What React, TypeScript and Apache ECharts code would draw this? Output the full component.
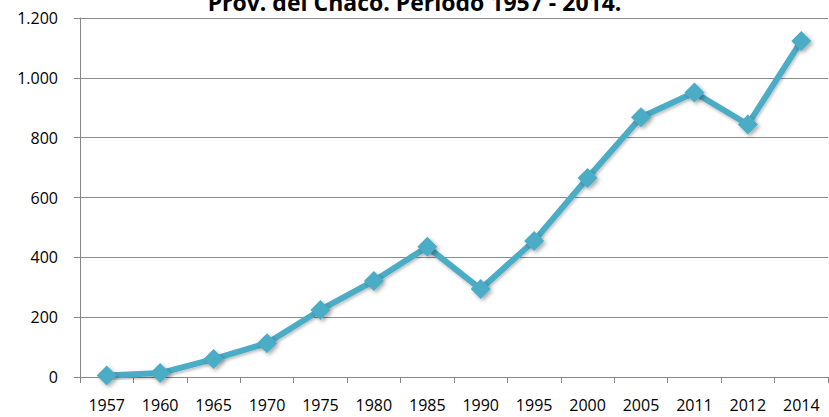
import React, { useEffect, useRef } from "react";
import * as echarts from "echarts";

const categories = ["1957", "1960", "1965", "1970", "1975", "1980", "1985", "1990", "1995", "2000", "2005", "2011", "2012", "2014"];
const values = [5, 13, 60, 113, 224, 321, 435, 294, 455, 665, 868, 951, 844, 1123];
const titleText = "Prov. del Chaco. Período 1957 - 2014.";

const fmt = (v: number) => String(v).replace(/\B(?=(\d{3})+(?!\d))/g, ".");

export default function App() {
  const ref = useRef<HTMLDivElement>(null);
  useEffect(() => {
    const chart = echarts.init(ref.current!, null, { renderer: "svg" });
    chart.setOption({
      animation: false,
      backgroundColor: "#ffffff",
      title: {
        text: titleText,
        left: "center",
        top: -15,
        textStyle: { fontFamily: "Open Sans", fontWeight: "bold", fontSize: 23, color: "#000" },
      },
      grid: { left: 80, right: 1, top: 18, bottom: 40 },
      xAxis: {
        type: "category",
        data: categories,
        boundaryGap: true,
        axisLine: { lineStyle: { color: "#868686", width: 1 } },
        axisTick: { show: true, length: 6, lineStyle: { color: "#868686" } },
        axisLabel: { fontFamily: "Open Sans", fontSize: 16, color: "#000", margin: 20 },
      },
      yAxis: {
        type: "value",
        min: 0,
        max: 1200,
        interval: 200,
        axisLine: { show: true, lineStyle: { color: "#868686", width: 1 } },
        axisTick: { show: true, length: 6, lineStyle: { color: "#868686" } },
        splitLine: { lineStyle: { color: "#8c8c8c", width: 1 } },
        axisLabel: { fontFamily: "Open Sans", fontSize: 16, color: "#000", margin: 22, formatter: (v: number) => fmt(v) },
      },
      series: [
        {
          type: "line",
          data: values,
          symbol: "diamond",
          symbolSize: 20,
          lineStyle: { color: "#4BACC6", width: 6, shadowColor: "rgba(0,0,0,0.25)", shadowBlur: 3, shadowOffsetX: 1, shadowOffsetY: 2 },
          itemStyle: { color: "#4BACC6", shadowColor: "rgba(0,0,0,0.35)", shadowBlur: 4, shadowOffsetX: 2, shadowOffsetY: 2 },
        },
      ],
    });
    return () => chart.dispose();
  }, []);
  return <div ref={ref} style={{ position: "fixed", left: 0, top: 0, width: 829, height: 417 }} />;
}
